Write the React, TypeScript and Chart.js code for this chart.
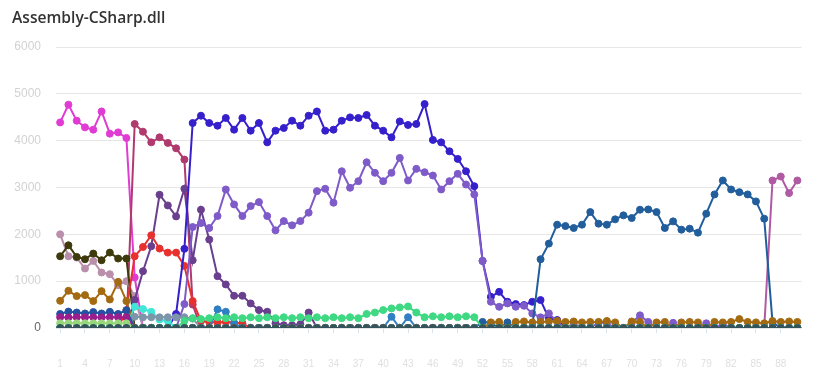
import { useEffect, useRef } from "react";
import { Chart, registerables } from "chart.js";

Chart.register(...registerables);

const categories = Array.from({ length: 90 }, (_, i) => String(i + 1));

const slate = [0,0,0,0,0,0,0,0,0,0,0,0,0,0,0,0,0,0,0,0,0,0,0,0,0,0,0,0,0,0,0,0,0,0,0,0,0,0,0,0,0,0,0,0,0,0,0,0,0,0,0,0,0,0,0,0,0,0,0,0,0,0,0,0,0,0,0,0,0,0,0,0,0,0,0,0,0,0,0,0,0,0,0,0,0,0,0,0,0,0];

const green = [0,0,0,0,0,0,0,0,0,0,0,0,0,0,0,
  150,210,190,210,230,210,230,210,230,210,230,210,230,210,230,210,230,210,230,210,230,210,300,330,383,419,440,460,330,230,250,230,250,230,250,230,
  0,0,0,0,0,0,0,0,0,0,0,0,0,0,0,0,0,0,0,0,0,0,0,0,0,0,0,0,0,0,0,0,0,0,0,0,0,0,0];

const lightGreen = [100,100,100,100,100,100,100,100,100,
  0,0,0,0,0,0,0,0,0,0,0,0,0,0,0,0,0,0,0,0,0,0,0,0,0,0,0,0,0,0,0,0,0,0,0,0,0,0,0,0,0,0,0,0,0,0,0,0,0,0,0,0,0,0,0,0,0,0,0,0,0,0,0,0,0,0,0,0,0,0,0,0,0,0,0,0];

const darkMagenta = [230,225,230,228,230,226,230,228,225,
  0,0,0,0,0,0,0,0,0,0,0,0,0,0,0,0,0,0,0,0,0,0,0,0,0,0,0,0,0,0,0,0,0,0,0,0,0,0,0,0,0,0,0,0,0,0,0,0,0,0,0,0,0,0,0,0,0,0,0,0,0,0,0,0,0,0,0,0,0,0,0,0,0,0,0,0];

const navy = [300,350,330,310,340,310,345,300,380,
  0,0,0,0,0,0,0,0,0,0,0,0,0,0,0,0,0,0,0,0,0,0,0,0,0,0,0,0,0,0,0,0,0,0,0,0,0,0,0,0,0,0,0,0,0,0,0,0,0,0,0,0,0,0,0,0,0,0,0,0,0,0,0,0,0,0,0,0,0,0,0,0,0,0,0,0];

const lightSlate = [0,0,0,0,0,0,0,0,0,
  240,228,230,228,230,228,230,200,0,
  0,0,0,0,0,0,0,0,0,0,0,0,0,0,0,0,0,0,0,0,0,0,0,0,0,0,0,0,0,0,0,0,0,0,0,0,0,0,0,0,0,0,0,0,0,0,0,0,0,0,0,0,0,0,0,0,0,0];

const turquoise = [0,0,0,0,0,0,0,0,0,
  454,404,347,180,150,0,
  0,0,0,0,0,0,0,0,0,0,0,0,0,0,0,0,0,0,0,0,0,0,0,0,0,0,0,0,0,0,0,0,0,0,0,0,0,0,0,0,0,0,0,0,0,0,0,0,0,0,0,0,0,0,0,0,0,0,0,0,0];

const mediumBlue = [0,0,0,0,0,0,0,0,0,0,0,0,0,0,0,0,0,0,0,
  398,347,100,
  0,0,0,0,0,0,0,0,0,0,0,0,0,0,0,0,0,0,
  240,0,230,
  0,0,0,0,0,0,0,0,0,0,0,0,0,0,0,0,0,0,0,0,0,0,0,0,0,0,0,0,0,0,0,0,0,0,0,0,0,0,0,0,0,0,0,0,0,0,0];

const goldenrod = [581,794,681,702,575,787,610,985,575,
  0,0,0,0,0,0,0,0,0,0,0,0,0,0,0,0,0,0,0,0,0,0,0,0,0,0,0,0,0,0,0,0,0,0,0,0,0,0,0,0,0,0,
  0,120,130,0,130,140,120,130,140,150,130,140,120,130,130,150,120,0,140,130,0,120,130,0,120,130,120,0,130,120,130,190,130,120,100,150,130,140,130];

const steelBlue = [0,0,0,0,0,0,0,0,0,0,0,0,0,0,0,0,0,0,0,0,0,0,0,0,0,0,0,0,0,0,0,0,0,0,0,0,0,0,0,0,0,0,0,0,0,0,0,0,0,0,0,
  130,110,0,120,0,0,30,
  1468,1802,2206,2177,2135,2206,2475,2228,2206,2320,2405,2348,2526,2532,2475,2135,2277,2100,2121,2036,2441,2852,3150,2958,2900,2852,2703,2334,
  121,0,0,0];

const orchid = [0,0,0,0,0,0,0,0,0,0,0,0,0,0,0,0,0,0,0,0,0,0,0,0,0,0,0,0,0,0,0,0,0,0,0,0,0,0,0,0,0,0,0,0,0,0,0,0,0,0,0,0,0,0,0,0,0,0,0,0,0,0,0,0,0,0,0,0,0,0,0,0,0,0,0,0,0,0,0,0,0,0,0,0,0,0,
  3150,3235,2880,3150];

const lavender = [0,0,0,0,0,0,0,0,0,0,0,0,0,0,0,
  511,
  2156,2241,2135,2390,2958,2639,2390,2603,2688,2390,2085,2283,2192,2283,2462,2922,2973,2675,3347,2994,3135,3539,3313,3135,3313,3632,3150,3398,3326,3256,2958,3135,3292,3064,2852,
  1432,560,453,525,454,475,312,228,312,134,
  0,100,0,0,120,100,0,0,110,270,130,0,0,110,0,0,0,100,0,90,0,0,0,0,0,0,0,0,0];

const blueViolet = [0,0,0,0,0,0,0,0,0,0,0,0,0,0,
  300,1690,
  4377,4533,4377,4320,4484,4235,4484,4213,4377,3964,4213,4271,4426,4320,4533,4624,4213,4235,4426,4497,4484,4548,4320,4213,4071,4411,4335,4356,4782,4016,3964,3773,3611,3347,3028,
  1432,666,772,560,511,489,560,596,206,170,
  0,0,0,0,0,0,0,0,0,0,0,0,0,0,0,0,0,0,0,0,0,0,0,0,0,0,0,0,0];

const red = [0,0,0,0,0,0,0,0,380,
  1532,1730,1979,1696,1610,1610,1326,575,150,130,120,130,110,100,
  0,0,0,0,0,0,0,0,0,0,0,0,0,0,0,0,0,0,0,0,0,0,0,0,0,0,0,0,0,0,0,0,0,0,0,0,0,0,0,0,0,0,0,0,0,0,0,0,0,0,0,0,0,0,0,0,0];

const darkPurple = [0,0,0,0,0,0,0,0,0,
  600,1213,1745,2845,2617,2383,2973,1447,2526,1888,1107,930,688,688,525,383,347,100,60,60,80,330,
  0,0,0,0,0,0,0,0,0,0,0,0,0,0,0,0,0,0,0,0,0,0,0,0,0,0,0,0,0,0,0,0,0,0,0,0,0,0,0,0,0,0,0,0,0,0,0,0,0];

const olive = [1532,1766,1518,1468,1589,1447,1610,1483,1483,
  0,0,0,0,0,0,0,0,0,0,0,0,0,0,0,0,0,0,0,0,0,0,0,0,0,0,0,0,0,0,0,0,0,0,0,0,0,0,0,0,0,0,0,0,0,0,0,0,0,0,0,0,0,0,0,0,0,0,0,0,0,0,0,0,0,0,0,0,0,0,0,0,0,0,0,0];

const mauve = [2000,1532,1504,1270,1432,1185,1149,915,1000,681,
  0,0,0,0,0,0,0,0,0,0,0,0,0,0,0,0,0,0,0,0,0,0,0,0,0,0,0,0,0,0,0,0,0,0,0,0,0,0,0,0,0,0,0,0,0,0,0,0,0,0,0,0,0,0,0,0,0,0,0,0,0,0,0,0,0,0,0,0,0,0];

const maroon = [0,0,0,0,0,0,0,0,0,
  4356,4192,3964,4071,3952,3837,3596,500,
  0,0,0,0,0,0,0,0,0,0,0,0,0,0,0,0,0,0,0,0,0,0,0,0,0,0,0,0,0,0,0,0,0,0,0,0,0,0,0,0,0,0,0,0,0,0,0,0,0,0,0,0,0,0,0,0,0,0,0];

const magenta = [4390,4767,4426,4284,4235,4624,4150,4177,4058,1079,
  0,0,0,0,0,0,0,0,0,0,0,0,0,0,0,0,0,0,0,0,0,0,0,0,0,0,0,0,0,0,0,0,0,0,0,0,0,0,0,0,0,0,0,0,0,0,0,0,0,0,0,0,0,0,0,0,0,0,0,0,0,0,0,0,0,0,0,0,0,0];

const seriesList: [string, number[], string][] = [
  ["slate", slate, "#35535a"],
  ["green", green, "#3fd883"],
  ["lightGreen", lightGreen, "#98d67c"],
  ["darkMagenta", darkMagenta, "#9b1d8e"],
  ["navy", navy, "#2452a2"],
  ["lightSlate", lightSlate, "#7d95a8"],
  ["turquoise", turquoise, "#40e6d8"],
  ["mediumBlue", mediumBlue, "#2f7fc2"],
  ["goldenrod", goldenrod, "#a36a12"],
  ["steelBlue", steelBlue, "#215e9b"],
  ["orchid", orchid, "#b05aa3"],
  ["lavender", lavender, "#7e5bc8"],
  ["blueViolet", blueViolet, "#3620cc"],
  ["red", red, "#e8302e"],
  ["darkPurple", darkPurple, "#6a3f8e"],
  ["olive", olive, "#3d3b0c"],
  ["mauve", mauve, "#b98fab"],
  ["maroon", maroon, "#b03a6e"],
  ["magenta", magenta, "#e03cd3"],
];

export default function App() {
  const ref = useRef<HTMLCanvasElement | null>(null);
  useEffect(() => {
    if (!ref.current) return;
    const chart = new Chart(ref.current, {
      type: "line",
      data: {
        labels: categories,
        datasets: seriesList.map(([name, values, color]) => ({
          label: name,
          data: values,
          borderColor: color,
          backgroundColor: color,
          pointBackgroundColor: color,
          pointBorderColor: color,
          borderWidth: 2,
          pointRadius: 3.5,
          pointBorderWidth: 1,
          tension: 0,
          fill: false,
        })),
      },
      options: {
        animation: false,
        responsive: false,
        devicePixelRatio: 1,
        layout: { padding: { left: 6, right: 11.5, top: 39, bottom: 0 } },
        plugins: { legend: { display: false }, tooltip: { enabled: false } },
        scales: {
          x: {
            offset: true,
            afterFit: (scale: any) => {
              scale.height = 42;
            },
            grid: { drawOnChartArea: false, drawTicks: true, tickLength: 5, color: "#dbe3ea" },
            border: { display: false },
            ticks: {
              autoSkip: true,
              maxTicksLimit: 30,
              maxRotation: 0,
              minRotation: 0,
              padding: 25,
              color: "#e0e0e0",
              font: { size: 10 },
            },
          },
          y: {
            min: 0,
            max: 6000,
            afterFit: (scale: any) => {
              scale.width = 42;
            },
            ticks: {
              stepSize: 1000,
              padding: 15,
              callback: (v: any) => String(v),
              color: (c: any) => (c.tick && c.tick.value === 0 ? "#666" : "#d2d2d2"),
              font: { size: 12 },
            },
            grid: { color: "#e6e6e6", drawTicks: false },
            border: { display: false },
          },
        },
      },
    });
    return () => chart.destroy();
  }, []);

  return (
    <div style={{ position: "relative", width: 805, height: 362 }}>
      <div
        style={{
          position: "absolute",
          left: 4,
          top: -1,
          fontFamily: "'Open Sans', sans-serif",
          fontWeight: 600,
          fontSize: 15.6,
          lineHeight: "20px",
          color: "#333",
          whiteSpace: "nowrap",
          zIndex: 1,
        }}
      >
        Assembly-CSharp.dll
      </div>
      <canvas ref={ref} width={805} height={362} style={{ display: "block", width: 805, height: 362 }} />
    </div>
  );
}
